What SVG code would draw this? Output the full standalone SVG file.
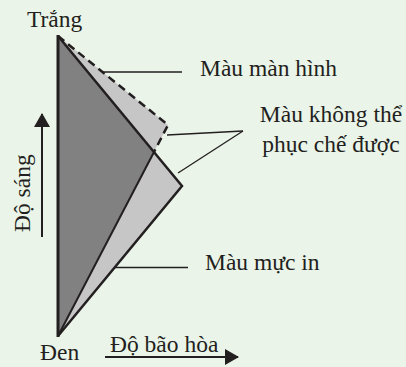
<svg xmlns="http://www.w3.org/2000/svg" width="406" height="367" viewBox="0 0 406 367">
<style>
text{font-family:"Liberation Serif","Times New Roman",serif;font-size:23.5px;fill:#231f20}
.lead{stroke:#231f20;stroke-width:1.3;fill:none}
.edge{stroke:#231f20;fill:none;stroke-linejoin:miter}
</style>
<defs>
<marker id="ah" markerWidth="14" markerHeight="16" refX="13" refY="8" orient="auto" markerUnits="userSpaceOnUse">
<path d="M0,0 L14,8 L0,16 Z" fill="#231f20"/>
</marker>
</defs>
<rect width="406" height="367" fill="#eaf4e8"/>
<g id="screen-gamut">
<polygon points="58,36 168,125 58,336" fill="#c6c6c6"/>
</g>
<g id="print-gamut">
<polygon points="58,36 182,186 58,336" fill="#c6c6c6"/>
</g>
<g id="common-gamut">
<polygon points="58,36 154,152 58,336" fill="#818181"/>
</g>
<g id="outlines">
<polyline class="edge" points="58,36 182,186 58,336" stroke-width="2.5"/>
<polyline class="edge" points="58,36 168,125 154,152" stroke-width="2.5" stroke-dasharray="8,5"/>
<line class="edge" x1="154" y1="152" x2="58" y2="336" stroke-width="2"/>
<line class="edge" x1="58" y1="35" x2="58" y2="337" stroke-width="3"/>
</g>
<g id="connectors">
<line class="lead" x1="103" y1="72" x2="182" y2="72"/>
<line class="lead" x1="167" y1="135" x2="243" y2="131"/>
<line class="lead" x1="178" y1="173" x2="243" y2="131"/>
<line class="lead" x1="115" y1="267.5" x2="188" y2="267.5"/>
<line stroke="#231f20" stroke-width="2" x1="42" y1="237" x2="42" y2="114" marker-end="url(#ah)"/>
<line stroke="#231f20" stroke-width="2" x1="105" y1="357" x2="238" y2="357" marker-end="url(#ah)"/>
</g>
<g id="label-trang"><text x="27" y="27">Trắng</text></g>
<g id="label-den"><text x="40" y="360">Đen</text></g>
<g id="label-saturation"><text x="110" y="352">Độ bão hòa</text></g>
<g id="label-lightness"><text transform="translate(30,232) rotate(-90)">Độ sáng</text></g>
<g id="label-screen"><text x="200" y="76">Màu màn hình</text></g>
<g id="label-out"><text x="331" y="122" text-anchor="middle">Màu không thể</text><text x="331" y="152" text-anchor="middle">phục chế được</text></g>
<g id="label-print"><text x="205" y="270">Màu mực in</text></g>
</svg>
